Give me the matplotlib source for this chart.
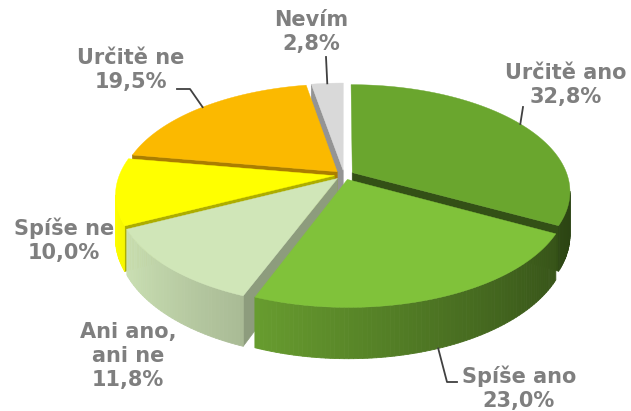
import numpy as np
import matplotlib.pyplot as plt
import matplotlib.colors as mcolors
from matplotlib.patches import Polygon
from matplotlib.collections import PolyCollection

labels = ['Určitě ano', 'Spíše ano', 'Ani ano,\nani ne', 'Spíše ne', 'Určitě ne', 'Nevím']
values = [32.8, 23.0, 11.8, 10.0, 19.5, 2.8]
colors = ['#6aa62e', '#80c23a', '#d0e6b8', '#ffff00', '#fbb900', '#d9d9d9']

# layout (pixel space of the 631x411 canvas)
cx, cy = 344, 175
R, B, D = 215, 104, 42      # horizontal radius, depth radius, thickness
persp = 0.174               # far side smaller, near side bigger
explode = 0.045
label_pos = [(566, 85), (519, 388), (128, 356), (64, 240), (131, 70), (311, 32)]
leader_mid = [[(523, 107)], [(447, 382), (457, 382)], None, None,
              [(190, 89), (177, 89)], [(326, 57)]]

fig = plt.figure(figsize=(6.31, 4.11), dpi=100)
ax = fig.add_axes([0, 0, 1, 1])
ax.set_xlim(0, 631)
ax.set_ylim(411, 0)
ax.axis('off')


def shade(c, f):
    rgb = np.array(mcolors.to_rgb(c))
    return tuple(np.clip(rgb * f, 0, 1))


def proj(theta, off, r=1.0, h=0.0):
    t = np.radians(theta)
    X = r * np.cos(t) + off[0]
    Z = r * np.sin(t) + off[1]
    s = 1.0 / (1.0 + persp * Z)
    return (cx + R * X * s, cy - B * Z * s + D * h * s)


total = sum(values)
slices = []
start = 90.0
for i, v in enumerate(values):
    end = start - v / total * 360
    mid = (start + end) / 2
    m = np.radians(mid)
    slices.append((i, start, end, mid, (explode * np.cos(m), explode * np.sin(m))))
    start = end

# draw back to front
order = sorted(slices, key=lambda s: -np.sin(np.radians(s[3])))

for i, a0, a1, mid, off in order:
    col = colors[i]
    # radial faces
    for th, kind in ((a0, 'start'), (a1, 'end')):
        cth = np.cos(np.radians(th))
        if (kind == 'start' and cth < -0.01) or (kind == 'end' and cth > 0.01):
            f = 0.68 if kind == 'start' else 0.48
            quad = [proj(th, off, r=0), proj(th, off), proj(th, off, h=1), proj(th, off, r=0, h=1)]
            ax.add_patch(Polygon(quad, closed=True, fc=shade(col, f), ec=shade(col, f), lw=0.5))
    # outer wall, only the part facing the camera
    ths = np.linspace(a0, a1, max(int(abs(a0 - a1)), 2) + 1)
    polys, fcs = [], []
    for t0, t1 in zip(ths[:-1], ths[1:]):
        tm = (t0 + t1) / 2
        if np.sin(np.radians(tm)) >= -persp:
            continue
        polys.append([proj(t0, off), proj(t1, off), proj(t1, off, h=1), proj(t0, off, h=1)])
        f = min(1.0, 0.7 - 0.3 * np.cos(np.radians(tm)))
        fcs.append(shade(col, f))
    if polys:
        ax.add_collection(PolyCollection(polys, facecolors=fcs, edgecolors=fcs, linewidths=0.6))
    # top
    top = [proj(0, off, r=0)] + [proj(t, off) for t in np.linspace(a0, a1, 200)]
    ax.add_patch(Polygon(top, closed=True, fc=col, ec=col, lw=0.3))

# labels and leader lines
for i, a0, a1, mid, off in slices:
    txt = labels[i] + '\n' + f'{values[i]:.1f}'.replace('.', ',') + '%'
    x, y = label_pos[i]
    ax.text(x, y, txt, ha='center', va='center', fontsize=15, fontweight='bold',
            color='#7f7f7f', family='DejaVu Sans', linespacing=1.25)
    if leader_mid[i] is not None:
        p = proj(mid, off, h=1.0 if np.sin(np.radians(mid)) < 0 else 0.0)
        xs = [p[0]] + [q[0] for q in leader_mid[i]]
        ys = [p[1]] + [q[1] for q in leader_mid[i]]
        ax.plot(xs, ys, color='#404040', lw=1.3)

fig.savefig('out.png', dpi=100)
